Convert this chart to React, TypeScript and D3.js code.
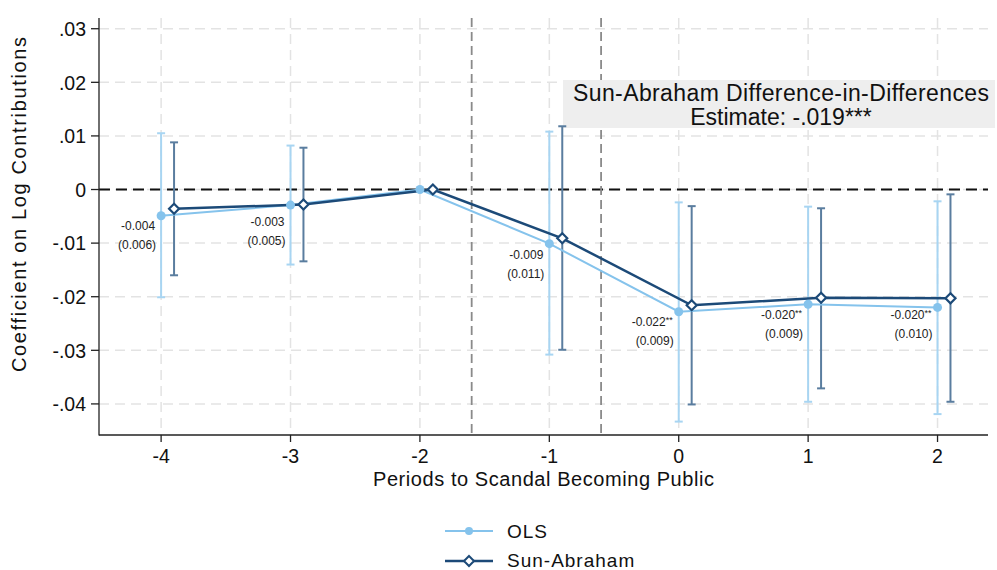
import * as d3 from "d3";

const periods = [-4, -3, -2, -1, 0, 1, 2];
const olsCoef = [-0.0049, -0.0029, 0, -0.0101, -0.0228, -0.0214, -0.022];
const olsLo = [-0.0201, -0.014, 0, -0.0308, -0.0433, -0.0396, -0.0419];
const olsHi = [0.0105, 0.0082, 0, 0.0108, -0.0024, -0.0032, -0.0022];
const saCoef = [-0.0036, -0.0028, 0, -0.0091, -0.0216, -0.0202, -0.0203];
const saLo = [-0.016, -0.0134, 0, -0.0299, -0.0401, -0.0371, -0.0396];
const saHi = [0.0088, 0.0078, 0, 0.0118, -0.0031, -0.0035, -0.0009];
const coefLabels = ["-0.004", "-0.003", "", "-0.009", "-0.022", "-0.020", "-0.020"];
const starLabels = ["", "", "", "", "**", "**", "**"];
const seLabels = ["(0.006)", "(0.005)", "", "(0.011)", "(0.009)", "(0.009)", "(0.010)"];
const yTicks = [0.03, 0.02, 0.01, 0, -0.01, -0.02, -0.03, -0.04];
const xTicks = [-4, -3, -2, -1, 0, 1, 2];
const eventLines = [-1.6, -0.6];

const W = 997;
const H = 570;
const font = "'Liberation Sans', Arial, sans-serif";
const olsColor = "#85c3ec";
const olsCiColor = "#a8d5f2";
const saColor = "#1c4a78";
const saCiColor = "#5a7d9f";

export default function App() {
  // scales
  const x = d3.scaleLinear().domain([-4.48, 2.39]).range([99, 988]);
  const y = d3.scaleLinear().domain([-0.0458, 0.032]).range([435, 18]);
  const saX = (p: number) => x(p + 0.1);

  const line = d3
    .line<number>()
    .x((_, i) => x(periods[i]))
    .y((d) => y(d));
  const saLine = d3
    .line<number>()
    .x((_, i) => saX(periods[i]))
    .y((d) => y(d));

  const fmtY = (v: number) =>
    v === 0 ? "0" : (v < 0 ? "-" : "") + d3.format(".2f")(Math.abs(v)).replace(/^0/, "");

  const [x0, x1] = x.range();
  const [y0, y1] = y.range();

  return (
    <svg
      width={W}
      height={H}
      style={{ position: "absolute", left: 0, top: 0, background: "#fff" }}
      fontFamily={font}
    >
      {/* gridlines */}
      {yTicks.map((t) => (
        <line key={"gy" + t} x1={x0} x2={x1} y1={y(t)} y2={y(t)} stroke="#e3e3e3" strokeWidth={1.5} strokeDasharray="10,6" />
      ))}
      {xTicks.map((t) => (
        <line key={"gx" + t} x1={x(t)} x2={x(t)} y1={y1} y2={y0} stroke="#e3e3e3" strokeWidth={1.5} strokeDasharray="10,6" />
      ))}

      {/* zero line and event lines */}
      <line x1={x0} x2={x1} y1={y(0)} y2={y(0)} stroke="#111" strokeWidth={2} strokeDasharray="11,6" />
      {eventLines.map((v) => (
        <line key={"ev" + v} x1={x(v)} x2={x(v)} y1={y1} y2={y0} stroke="#8a8a8a" strokeWidth={1.8} strokeDasharray="9,5" />
      ))}

      {/* annotation */}
      <rect x={563} y={80} width={432} height={48} fill="#eeeeee" />
      <text x={781} y={101} textAnchor="middle" fontSize={23} fill="#111" textLength={416} lengthAdjust="spacing">
        Sun-Abraham Difference-in-Differences
      </text>
      <text x={781} y={125} textAnchor="middle" fontSize={23} fill="#111">
        Estimate: -.019***
      </text>

      {/* confidence intervals */}
      {periods.map((p, i) =>
        olsHi[i] === olsLo[i] ? null : (
          <g key={"oci" + p} stroke={olsCiColor} strokeWidth={2}>
            <line x1={x(p)} x2={x(p)} y1={y(olsHi[i])} y2={y(olsLo[i])} />
            <line x1={x(p) - 4} x2={x(p) + 4} y1={y(olsHi[i])} y2={y(olsHi[i])} />
            <line x1={x(p) - 4} x2={x(p) + 4} y1={y(olsLo[i])} y2={y(olsLo[i])} />
          </g>
        )
      )}
      {periods.map((p, i) =>
        saHi[i] === saLo[i] ? null : (
          <g key={"sci" + p} stroke={saCiColor} strokeWidth={2}>
            <line x1={saX(p)} x2={saX(p)} y1={y(saHi[i])} y2={y(saLo[i])} />
            <line x1={saX(p) - 4} x2={saX(p) + 4} y1={y(saHi[i])} y2={y(saHi[i])} />
            <line x1={saX(p) - 4} x2={saX(p) + 4} y1={y(saLo[i])} y2={y(saLo[i])} />
          </g>
        )
      )}

      {/* series lines */}
      <path d={line(olsCoef) || ""} fill="none" stroke={olsColor} strokeWidth={2} />
      <path d={saLine(saCoef) || ""} fill="none" stroke={saColor} strokeWidth={2.5} />

      {/* markers */}
      {periods.map((p, i) => (
        <circle key={"om" + p} cx={x(p)} cy={y(olsCoef[i])} r={4.5} fill={olsColor} />
      ))}
      {periods.map((p, i) => {
        const cx = saX(p);
        const cy = y(saCoef[i]);
        return (
          <path
            key={"sm" + p}
            d={`M${cx},${cy - 5}L${cx + 5},${cy}L${cx},${cy + 5}L${cx - 5},${cy}Z`}
            fill="#fff"
            stroke={saColor}
            strokeWidth={2.2}
          />
        );
      })}

      {/* coefficient labels */}
      {periods.map((p, i) =>
        coefLabels[i] === "" ? null : (
          <g key={"lb" + p} fontSize={12} fill="#222" textAnchor="end">
            <text x={x(p) - 6} y={y(saCoef[i]) + 21}>
              {coefLabels[i]}
              {starLabels[i] && (
                <tspan fontSize={9} dy={-3}>
                  {starLabels[i]}
                </tspan>
              )}
            </text>
            <text x={x(p) - 5} y={y(saCoef[i]) + 40}>
              {seLabels[i]}
            </text>
          </g>
        )
      )}

      {/* axes */}
      <line x1={x0} x2={x0} y1={y1} y2={y0 + 0.5} stroke="#222" strokeWidth={1.3} />
      <line x1={x0} x2={x1} y1={y0} y2={y0} stroke="#222" strokeWidth={1.3} />
      {yTicks.map((t) => (
        <g key={"yt" + t}>
          <line x1={x0 - 8} x2={x0} y1={y(t)} y2={y(t)} stroke="#222" strokeWidth={1.3} />
          <text x={x0 - 13} y={y(t) + 7.3} textAnchor="end" fontSize={19.5} fill="#111">
            {fmtY(t)}
          </text>
        </g>
      ))}
      {xTicks.map((t) => (
        <g key={"xt" + t}>
          <line x1={x(t)} x2={x(t)} y1={y0} y2={y0 + 7} stroke="#222" strokeWidth={1.3} />
          <text x={x(t)} y={463} textAnchor="middle" fontSize={19.5} fill="#111">
            {t}
          </text>
        </g>
      ))}
      <text
        transform="translate(26,204.5) rotate(-90)"
        textAnchor="middle"
        fontSize={20}
        fill="#111"
        textLength={335}
        lengthAdjust="spacing"
      >
        Coefficient on Log Contributions
      </text>
      <text
        x={(x0 + x1) / 2}
        y={486}
        textAnchor="middle"
        fontSize={20}
        fill="#111"
        textLength={341}
        lengthAdjust="spacing"
      >
        Periods to Scandal Becoming Public
      </text>

      {/* legend */}
      <line x1={445} x2={493} y1={531} y2={531} stroke={olsColor} strokeWidth={2} />
      <circle cx={469} cy={531} r={4} fill={olsColor} />
      <text x={507} y={537.5} fontSize={19} letterSpacing={1} fill="#111">OLS</text>
      <line x1={445} x2={493} y1={561} y2={561} stroke={saColor} strokeWidth={2.5} />
      <path d="M469,556L474,561L469,566L464,561Z" fill="#fff" stroke={saColor} strokeWidth={2} />
      <text x={507} y={567} fontSize={19} letterSpacing={1} fill="#111">Sun-Abraham</text>
    </svg>
  );
}
